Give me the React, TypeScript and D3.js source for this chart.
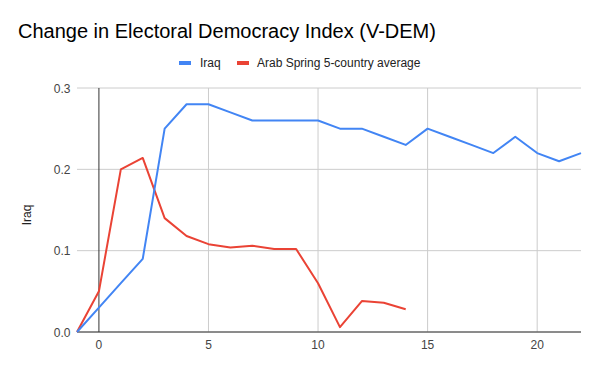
import React from "react";
import * as d3 from "d3";

// Chart values
const years = [-1, 0, 1, 2, 3, 4, 5, 6, 7, 8, 9, 10, 11, 12, 13, 14, 15, 16, 17, 18, 19, 20, 21, 22];
const iraq = [0, 0.03, 0.06, 0.09, 0.25, 0.28, 0.28, 0.27, 0.26, 0.26, 0.26, 0.26, 0.25, 0.25, 0.24, 0.23, 0.25, 0.24, 0.23, 0.22, 0.24, 0.22, 0.21, 0.22];
const arabYears = [-1, 0, 1, 2, 3, 4, 5, 6, 7, 8, 9, 10, 11, 12, 13, 14];
const arabSpring = [0, 0.05, 0.2, 0.214, 0.14, 0.118, 0.108, 0.104, 0.106, 0.102, 0.102, 0.06, 0.006, 0.038, 0.036, 0.028];
const xTicks = [0, 5, 10, 15, 20];
const yTicks = [0, 0.1, 0.2, 0.3];
const seriesNames = ["Iraq", "Arab Spring 5-country average"];
const colors = ["#4285f4", "#ea4335"];

const width = 600;
const height = 371;
const MARGIN = { top: 88, right: 19, bottom: 39, left: 77 };
const FONT = "Arial, 'Liberation Sans', sans-serif";

export default function App() {
  const boundsWidth = width - MARGIN.left - MARGIN.right;
  const boundsHeight = height - MARGIN.top - MARGIN.bottom;

  const xScale = d3.scaleLinear().domain([-1, 22]).range([0, boundsWidth]);
  const yScale = d3.scaleLinear().domain([0, 0.3]).range([boundsHeight, 0]);

  const line = d3
    .line<[number, number]>()
    .x((d) => xScale(d[0]))
    .y((d) => yScale(d[1]));

  const iraqPath = line(years.map((y, i) => [y, iraq[i]] as [number, number])) || "";
  const arabPath = line(arabYears.map((y, i) => [y, arabSpring[i]] as [number, number])) || "";

  return (
    <svg
      width={width}
      height={height}
      style={{ position: "absolute", left: 0, top: 0, background: "#fff" }}
      fontFamily={FONT}
    >
      <text x={18} y={38} fontSize={20} fill="#000">
        Change in Electoral Democracy Index (V-DEM)
      </text>

      {/* legend */}
      <g fontSize={12} fill="#222">
        <rect x={179} y={61} width={12} height={4} fill={colors[0]} />
        <text x={200} y={67}>{seriesNames[0]}</text>
        <rect x={237} y={61} width={12} height={4} fill={colors[1]} />
        <text x={257} y={67}>{seriesNames[1]}</text>
      </g>

      <text
        transform={`translate(31,215) rotate(-90)`}
        textAnchor="middle"
        fontSize={12}
        fill="#222"
      >
        Iraq
      </text>

      <g transform={`translate(${MARGIN.left},${MARGIN.top})`}>
        {yTicks.map((t) => (
          <g key={t}>
            <line x1={0} x2={boundsWidth} y1={yScale(t)} y2={yScale(t)} stroke="#cccccc" />
            <text x={-6.5} y={yScale(t) + 4.5} textAnchor="end" fontSize={12} fill="#444">
              {t.toFixed(1)}
            </text>
          </g>
        ))}
        {xTicks.map((t) => (
          <g key={t}>
            {t !== 0 && (
              <line x1={xScale(t)} x2={xScale(t)} y1={0} y2={boundsHeight} stroke="#cccccc" />
            )}
            <text x={xScale(t)} y={boundsHeight + 16.5} textAnchor="middle" fontSize={12} fill="#444">
              {t}
            </text>
          </g>
        ))}
        <line x1={xScale(0)} x2={xScale(0)} y1={0} y2={boundsHeight} stroke="#333" />
        <line x1={0} x2={boundsWidth} y1={boundsHeight} y2={boundsHeight} stroke="#333" />

        <path d={arabPath} fill="none" stroke={colors[1]} strokeWidth={2} strokeLinejoin="round" />
        <path d={iraqPath} fill="none" stroke={colors[0]} strokeWidth={2} strokeLinejoin="round" />
      </g>
    </svg>
  );
}
